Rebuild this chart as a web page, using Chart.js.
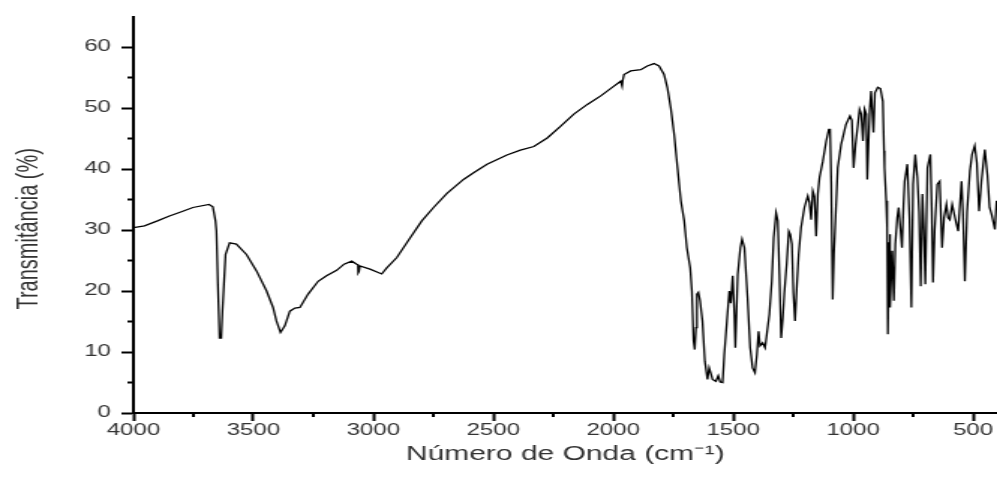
<!DOCTYPE html>
<html>
<head>
<meta charset="utf-8">
<title>Espectro de infravermelho</title>
<script src="https://cdn.jsdelivr.net/npm/chart.js@4.4.1/dist/chart.umd.min.js"></script>
<style>
  body { margin: 0; background: #fff; }
  #irChart { display: block; }
</style>
</head>
<body>
<!-- the original figure is stretched sideways, so the canvas is drawn narrow and widened by css -->
<canvas id="irChart" width="665" height="477" style="width:997px;height:477px"></canvas>
<script>

// Dados do espectro

const wavenumbers = [
    4000, 3954, 3900, 3850, 3800, 3752, 3685, 3669, 3658, 3654, 3648, 3641, 3634, 3629, 3616, 3599,
    3571, 3529, 3487, 3445, 3418, 3404, 3387, 3369, 3348, 3327, 3306, 3272, 3230, 3195, 3153, 3122,
    3090, 3069, 3064, 3063, 3060, 3056, 3014, 2965, 2944, 2902, 2847, 2798, 2749, 2693, 2624, 2582,
    2526, 2443, 2387, 2331, 2275, 2220, 2164, 2108, 2052, 1997, 1969, 1963, 1960, 1955, 1927, 1885,
    1858, 1830, 1809, 1788, 1774, 1760, 1746, 1732, 1718, 1704, 1693, 1679, 1672, 1665, 1660, 1655,
    1651, 1645, 1638, 1628, 1618, 1607, 1600, 1593, 1586, 1572, 1562, 1554, 1544, 1537, 1526, 1516,
    1510, 1502, 1495, 1491, 1481, 1470, 1463, 1453, 1440, 1429, 1419, 1409, 1401, 1394, 1388, 1377,
    1367, 1349, 1339, 1331, 1321, 1314, 1307, 1300, 1293, 1287, 1277, 1268, 1262, 1255, 1249, 1242,
    1235, 1227, 1217, 1203, 1189, 1182, 1175, 1168, 1161, 1154, 1147, 1140, 1126, 1112, 1101, 1096,
    1091, 1085, 1080, 1075, 1064, 1050, 1030, 1013, 1005, 998, 990, 980, 973, 966, 959, 952,
    945, 941, 931, 925, 915, 909, 897, 886, 876, 871, 869, 862, 858, 855, 850, 848,
    844, 837, 830, 824, 816, 810, 803, 796, 790, 785, 774, 765, 757, 750, 741, 732,
    725, 718, 711, 705, 699, 690, 678, 672, 667, 660, 649, 639, 629, 621, 611, 604,
    597, 587, 575, 562, 548, 542, 534, 525, 513, 504, 493, 484, 475, 465, 451, 440,
    431, 422, 409, 402
];

const transmittance = [
    30.4, 30.7, 31.5, 32.3, 33.0, 33.7, 34.2, 33.8, 31.5, 29.8, 21.1, 12.3, 12.3, 16.7, 26.0, 27.9,
    27.7, 26.0, 23.3, 20.0, 17.3, 15.1, 13.2, 14.3, 16.7, 17.2, 17.3, 19.5, 21.6, 22.5, 23.4, 24.4,
    24.9, 24.4, 24.3, 23.0, 23.2, 24.1, 23.6, 22.8, 23.8, 25.5, 28.7, 31.5, 33.7, 36.0, 38.3, 39.4,
    40.8, 42.3, 43.1, 43.7, 45.1, 47.0, 49.0, 50.6, 52.0, 53.6, 54.4, 53.6, 54.6, 55.5, 56.1, 56.3,
    56.9, 57.3, 56.9, 55.5, 53.3, 50.0, 45.7, 40.2, 34.8, 31.5, 27.1, 23.8, 20.0, 11.8, 10.4, 14.0,
    19.5, 19.8, 18.4, 15.1, 8.5, 5.5, 7.4, 6.5, 5.5, 5.2, 6.1, 5.1, 5.0, 9.6, 15.1, 20.0,
    18.0, 22.5, 16.2, 10.7, 22.7, 27.1, 28.5, 27.1, 18.9, 10.7, 7.4, 6.6, 9.6, 13.4, 11.0, 11.5,
    10.7, 16.2, 21.6, 28.7, 32.8, 31.5, 22.7, 12.3, 15.6, 19.5, 24.4, 29.8, 29.3, 27.7, 19.7, 15.1,
    20.5, 26.0, 30.4, 33.7, 35.6, 34.5, 31.7, 36.4, 35.5, 29.0, 35.9, 38.6, 41.3, 44.6, 46.5, 46.5,
    37.5, 18.6, 26.0, 30.4, 40.2, 44.0, 47.3, 48.7, 48.0, 40.2, 44.0, 47.3, 49.8, 49.0, 44.6, 49.8,
    49.0, 38.3, 49.5, 52.8, 46.0, 52.5, 53.4, 53.2, 51.1, 43.0, 40.2, 34.8, 30.4, 12.9, 28.0, 29.3,
    17.3, 26.6, 18.4, 27.7, 32.0, 33.7, 30.4, 27.1, 34.0, 38.0, 40.8, 32.0, 17.3, 37.5, 42.4, 38.6,
    33.0, 20.8, 35.9, 30.0, 21.1, 40.2, 42.4, 33.0, 21.4, 30.0, 37.5, 38.0, 27.1, 32.0, 34.2, 32.0,
    31.7, 34.2, 32.0, 29.8, 38.0, 33.0, 21.6, 33.0, 39.7, 42.4, 43.8, 41.0, 33.1, 38.0, 43.2, 39.0,
    33.7, 32.5, 30.1, 34.8
];

const xTicks = [500, 1000, 1500, 2000, 2500, 3000, 3500, 4000];
const xMinorTicks = [750, 1250, 1750, 2250, 2750, 3250, 3750];
const yTicks = [0, 10, 20, 30, 40, 50, 60];
const yMinorTicks = [5, 15, 25, 35, 45, 55];

const fontFamily = "'Liberation Sans', Arial, sans-serif";
const textColor = '#333';


// minor tick marks (shorter than the major ones)

const minorTicks = {
    id: 'minorTicks',
    afterDraw(chart) {
        const { ctx, chartArea, scales } = chart;
        ctx.save();
        ctx.strokeStyle = '#000';
        ctx.lineWidth = 2;
        ctx.beginPath();
        xMinorTicks.forEach(v => {
            const px = scales.x.getPixelForValue(v);
            ctx.moveTo(px, chartArea.bottom);
            ctx.lineTo(px, chartArea.bottom + 4);
        });
        yMinorTicks.forEach(v => {
            const py = scales.y.getPixelForValue(v);
            ctx.moveTo(chartArea.left - 4, py);
            ctx.lineTo(chartArea.left, py);
        });
        ctx.stroke();
        ctx.restore();
    }
};

// y title sits a bit below the middle of the axis in the original
const yTitle = {
    id: 'yTitle',
    afterDraw(chart) {
        const { ctx, chartArea } = chart;
        ctx.save();
        ctx.translate(19, (chartArea.top + chartArea.bottom) / 2 + 14);
        ctx.rotate(-Math.PI / 2);
        ctx.font = '20px ' + fontFamily;
        ctx.fillStyle = textColor;
        ctx.textAlign = 'center';
        ctx.textBaseline = 'middle';
        ctx.fillText('Transmitância (%)', 0, 0);
        ctx.restore();
    }
};


const ir = document.getElementById('irChart');

new Chart(ir, {
    type: 'line',
    data: {
        datasets: [{
            label: 'Transmitância',
            data: wavenumbers.map((w, i) => ({ x: w, y: transmittance[i] })),
            borderColor: '#000',
            borderWidth: 1.3,
            pointRadius: 0,
            tension: 0,
            fill: false
        }]
    },
    options: {
        responsive: false,
        devicePixelRatio: 1,
        animation: false,
        layout: {
            padding: { top: 15, right: 0, bottom: 0, left: 0 }
        },
        plugins: {
            legend: { display: false },
            tooltip: { enabled: false }
        },
        scales: {
            x: {
                type: 'linear',
                reverse: true,
                min: 400,
                max: 4000,
                afterBuildTicks: s => { s.ticks = xTicks.map(v => ({ value: v })); },
                afterFit: s => { s.height = 64; },
                border: { display: true, color: '#000', width: 2 },
                grid: { display: true, drawOnChartArea: false, drawTicks: true, tickLength: 8, tickColor: '#000', tickWidth: 2 },
                ticks: {
                    autoSkip: false,
                    maxRotation: 0,
                    padding: 0,
                    color: textColor,
                    font: { family: fontFamily, size: 16 },
                    callback: v => v
                },
                title: {
                    display: true,
                    text: 'Número de Onda (cm⁻¹)',
                    color: textColor,
                    font: { family: fontFamily, size: 20 },
                    padding: { top: 0, bottom: 11 }
                }
            },
            y: {
                min: 0,
                max: 65,
                afterBuildTicks: s => { s.ticks = yTicks.map(v => ({ value: v })); },
                afterFit: s => { s.width = 89; },
                border: { display: true, color: '#000', width: 2 },
                grid: { display: true, drawOnChartArea: false, drawTicks: true, tickLength: 8, tickColor: '#000', tickWidth: 2 },
                ticks: {
                    padding: 7,
                    color: textColor,
                    font: { family: fontFamily, size: 16 },
                    callback: v => v
                },
                title: { display: false }
            }
        }
    },
    plugins: [minorTicks, yTitle]
});

</script>
</body>
</html>
